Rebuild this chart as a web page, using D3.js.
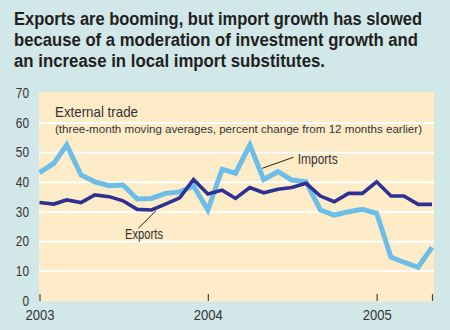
<!DOCTYPE html>
<html>
<head>
<meta charset="utf-8">
<script src="https://cdn.jsdelivr.net/npm/d3@7"></script>
<style>
  body { margin: 0; background: #d1e7e8; }
  svg { display: block; }
  .title { font-family: "Liberation Sans Narrow", "Liberation Sans", sans-serif; font-weight: bold; font-size: 17.5px; fill: #231f20; }
  .lbl { font-family: "Liberation Sans Narrow", "Liberation Sans", sans-serif; fill: #333; }
  .grid line { stroke: #fff; stroke-width: 2; }
  .grid path { display: none; }
</style>
</head>
<body>
<div id="container"></div>
<script>
// monthly data, Jan 2003 - May 2005
const months = ["2003-01","2003-02","2003-03","2003-04","2003-05","2003-06","2003-07","2003-08","2003-09","2003-10","2003-11","2003-12",
  "2004-01","2004-02","2004-03","2004-04","2004-05","2004-06","2004-07","2004-08","2004-09","2004-10","2004-11","2004-12",
  "2005-01","2005-02","2005-03","2005-04","2005-05"];
const imports = [43.1, 46.2, 52.4, 42.3, 40.0, 38.7, 38.9, 34.2, 34.4, 36.1, 36.6, 38.6,
  30.5, 44.2, 42.9, 52.4, 40.8, 43.4, 40.6, 40.0, 30.5, 28.8, 29.9, 30.7,
  29.4, 14.6, 12.9, 11.2, 17.9];
const exports = [33.0, 32.5, 33.9, 33.0, 35.6, 35.0, 33.6, 30.7, 30.5, 32.5, 34.6, 40.8,
  35.9, 37.2, 34.4, 38.1, 36.3, 37.5, 38.1, 39.5, 35.2, 33.3, 36.1, 36.1,
  40.0, 35.2, 35.2, 32.4, 32.4];
const yTicks = [0, 10, 20, 30, 40, 50, 60, 70];
const xTicks = ["2003-01", "2004-01", "2005-01", "2005-05"];
const xTickLabels = ["2003", "2004", "2005", ""];
const titleLines = ["Exports are booming, but import growth has slowed",
  "because of a moderation of investment growth and",
  "an increase in local import substitutes."];
const titleWidths = [408, 404, 311];

const parse = d3.timeParse("%Y-%m");
const W = 450, H = 330;
const plotL = 39.5, plotR = 432, plotT = 92.8, plotB = 300.5;

// squeeze text to a narrow width (no condensed face installed)
function narrow(sel, w) {
  sel.attr("textLength", w).attr("lengthAdjust", "spacingAndGlyphs");
}

const svg = d3.select("#container").append("svg")
  .attr("width", W).attr("height", H);

svg.append("rect").attr("width", W).attr("height", H).attr("fill", "#d1e7e8");

// title
svg.append("g").selectAll("text")
  .data(titleLines)
  .enter().append("text")
  .attr("class", "title")
  .attr("x", 14)
  .attr("y", (d, i) => 24.5 + i * 21)
  .attr("textLength", (d, i) => titleWidths[i])
  .attr("lengthAdjust", "spacingAndGlyphs")
  .text(d => d);

const x = d3.scaleTime()
  .domain([parse(months[0]), parse(months[months.length - 1])])
  .range([plotL, plotR]);
const y = d3.scaleLinear().domain([0, 70]).range([plotB, plotT]);

// plot background
svg.append("rect")
  .attr("x", 39).attr("y", y(70) - 1)
  .attr("width", 434 - 39).attr("height", y(0) - y(70) + 2)
  .attr("fill", "#feecc8");

// horizontal grid lines
svg.append("g")
  .attr("class", "grid")
  .attr("transform", `translate(39, 0)`)
  .call(d3.axisLeft(y)
    .tickValues(yTicks.filter(v => v > 0 && v < 70))
    .tickSize(-(434 - 39))
    .tickFormat(""));

// y labels
const yAxis = svg.append("g")
  .attr("transform", `translate(39, 0)`)
  .call(d3.axisLeft(y).tickValues(yTicks).tickSize(0).tickPadding(10));
yAxis.select(".domain").remove();
yAxis.selectAll("text")
  .attr("class", "lbl").style("font-size", "14.5px").attr("fill", "#333")
  .attr("textLength", d => String(d).length * 6.6)
  .attr("lengthAdjust", "spacingAndGlyphs");

// x axis: ticks inside the plot, years below
const xAxis = svg.append("g")
  .attr("transform", `translate(0, 301)`)
  .call(d3.axisBottom(x)
    .tickValues(xTicks.map(parse))
    .tickSizeInner(-7)
    .tickSizeOuter(0)
    .tickPadding(8.5)
    .tickFormat((d, i) => xTickLabels[i]));
xAxis.select(".domain").remove();
xAxis.selectAll("line").attr("stroke", "#444").attr("stroke-width", 1.2);
xAxis.selectAll("text").filter((d, i) => xTickLabels[i] !== "")
  .attr("class", "lbl").style("font-size", "14.5px").attr("fill", "#333")
  .call(narrow, 29);

// heading inside the plot
svg.append("text").attr("class", "lbl")
  .attr("x", 55).attr("y", 116.5)
  .style("font-size", "14.5px").attr("fill", "#231f20")
  .text("External trade")
  .call(narrow, 83);
svg.append("text").attr("class", "lbl")
  .attr("x", 55).attr("y", 132.5)
  .style("font-size", "11.8px").attr("fill", "#231f20")
  .text("(three-month moving averages, percent change from 12 months earlier)")
  .call(narrow, 367);

const line = d3.line()
  .x((d, i) => x(parse(months[i])))
  .y(d => y(d));

svg.append("path")
  .datum(imports)
  .attr("d", line)
  .attr("fill", "none")
  .attr("stroke", "#6dbde9")
  .attr("stroke-width", 5);

svg.append("path")
  .datum(exports)
  .attr("d", line)
  .attr("fill", "none")
  .attr("stroke", "#2e3192")
  .attr("stroke-width", 3.6);

// series labels with leader lines
svg.append("line")
  .attr("x1", 262.3).attr("y1", 168.3).attr("x2", 293.3).attr("y2", 157.3)
  .attr("stroke", "#231f20").attr("stroke-width", 1);
svg.append("text").attr("class", "lbl")
  .attr("x", 297.7).attr("y", 163.5)
  .style("font-size", "14px").attr("fill", "#231f20")
  .text("Imports")
  .call(narrow, 40);

svg.append("line")
  .attr("x1", 138.3).attr("y1", 228.3).attr("x2", 156).attr("y2", 210.7)
  .attr("stroke", "#231f20").attr("stroke-width", 1);
svg.append("text").attr("class", "lbl")
  .attr("x", 125).attr("y", 238.5)
  .style("font-size", "14px").attr("fill", "#231f20")
  .text("Exports")
  .call(narrow, 38);
</script>
</body>
</html>
